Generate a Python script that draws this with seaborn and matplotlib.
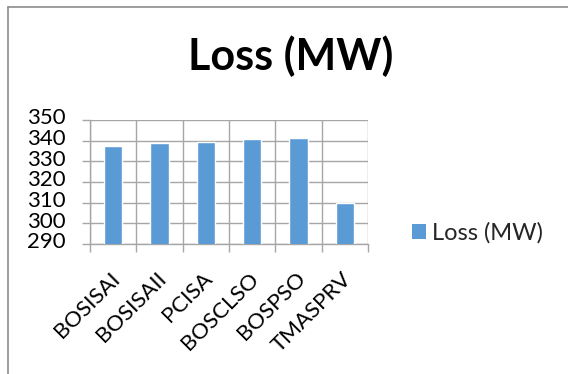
import matplotlib
matplotlib.use("Agg")
import matplotlib.pyplot as plt
import matplotlib.transforms as mtransforms
from matplotlib.patches import Patch
from matplotlib.lines import Line2D
import seaborn as sns
import pandas as pd

methods = ["BOSISAI", "BOSISAII", "PCISA", "BOSCLSO", "BOSPSO", "TMASPRV"]
loss_mw = [337.4, 338.9, 339.5, 341.0, 341.2, 309.8]
y_ticks = [290, 300, 310, 320, 330, 340, 350]
series_name = "Loss (MW)"

sns.set_theme(style="white")
plt.rcParams["font.family"] = ["Lato", "DejaVu Sans"]

df = pd.DataFrame({"method": methods, "loss": loss_mw})

W, H, DPI = 568, 374, 100
fig = plt.figure(figsize=(W / DPI, H / DPI), dpi=DPI)
ax = fig.add_axes([90 / W, 1 - 244 / H, 278 / W, 124 / H])

sns.barplot(data=df, x="method", y="loss", color="#5B9BD5", width=0.4,
            saturation=1, ax=ax, zorder=3)

grid_c = "#a6a6a6"
ax.set_ylim(290, 350)
ax.set_yticks(y_ticks)
ax.set_xlim(-0.5, len(methods) - 0.5)
ax.set_xticks(range(len(methods)))
ax.set_xticks([i - 0.5 for i in range(len(methods) + 1)], minor=True)
ax.set_xticklabels(methods, rotation=45, ha="right", va="top",
                   rotation_mode="anchor", fontsize=16, color="black")
ax.tick_params(axis="x", which="major", length=0, pad=10)
ax.tick_params(axis="x", which="minor", length=5.5, width=1, color=grid_c,
               direction="out", bottom=True)
ax.tick_params(axis="y", which="major", length=5.8, width=1, color=grid_c,
               direction="out", left=True, labelsize=16, labelcolor="black",
               pad=4)

# the rotated category labels end just left of each category centre,
# about 25 px under the axis line
shift = mtransforms.ScaledTranslation(-3.5 / DPI, -10.5 / DPI,
                                      fig.dpi_scale_trans)
for lbl in ax.get_xticklabels():
    lbl.set_transform(lbl.get_transform() + shift)

ax.grid(axis="y", which="major", color=grid_c, lw=1, zorder=0)
ax.grid(axis="x", which="minor", color=grid_c, lw=1, zorder=0)
ax.set_axisbelow(True)
for side in ["top", "right"]:
    ax.spines[side].set_visible(False)
for side in ["left", "bottom"]:
    ax.spines[side].set_color(grid_c)
    ax.spines[side].set_linewidth(1)
ax.set_xlabel("")
ax.set_ylabel("")

# right-align the value labels at a fixed pixel column, slightly raised
fig.canvas.draw()
renderer = fig.canvas.get_renderer()
ylabels = ax.get_yticklabels()
right_edge = max(t.get_window_extent(renderer).x1 for t in ylabels)
dx = 66 - right_edge
yshift = mtransforms.ScaledTranslation(dx / DPI, 3.5 / DPI,
                                       fig.dpi_scale_trans)
for lbl in ylabels:
    lbl.set_transform(lbl.get_transform() + yshift)

fig.text(291 / W, 1 - 70 / H, series_name, ha="center", va="baseline",
         fontsize=31, fontweight="bold", color="black")

handle = Patch(facecolor="#5B9BD5", edgecolor="none")
fig.legend([handle], [series_name], loc="center left",
           bbox_to_anchor=(391 / W, 1 - 233 / H), frameon=False,
           fontsize=17, handlelength=0.6, handleheight=0.6,
           handletextpad=0.25)

# chart border (left and top edges)
fig.add_artist(Line2D([8 / W, 8 / W], [0, 1 - 7 / H],
                      transform=fig.transFigure, color="#8c8c8c", lw=1.2))
fig.add_artist(Line2D([8 / W, 1], [1 - 7 / H, 1 - 7 / H],
                      transform=fig.transFigure, color="#8c8c8c", lw=1.2))

fig.savefig("out.png", dpi=DPI)
